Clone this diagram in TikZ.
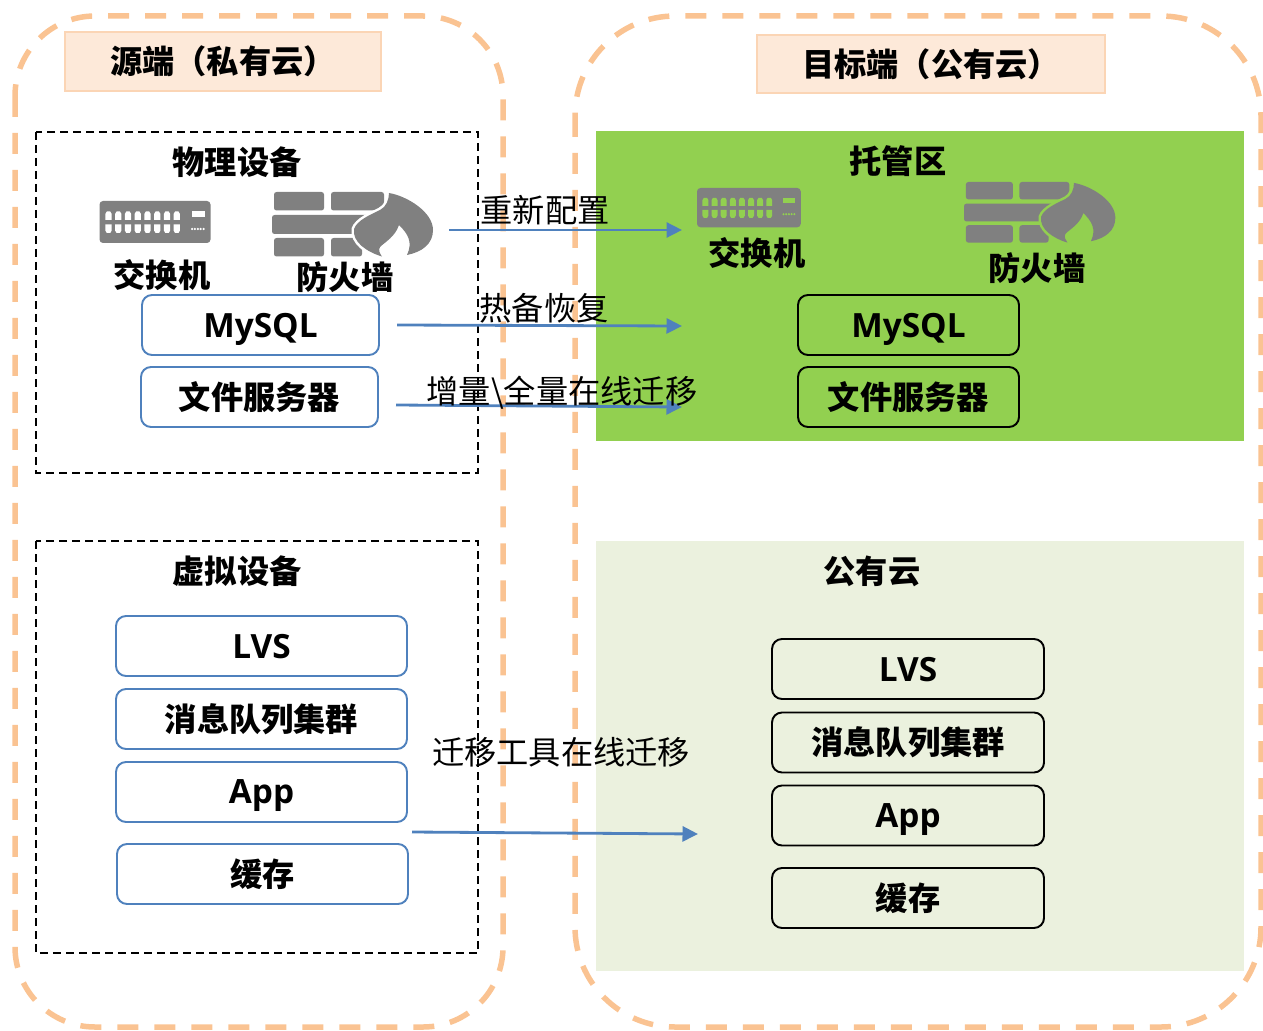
\documentclass[tikz,border=0pt]{standalone}
\usepackage{fontspec}
\setmainfont{Noto Sans CJK SC}
\newfontfamily\latinfont{Open Sans}
\newcommand{\latintext}[1]{\raisebox{0pt}[\height][0pt]{\fontsize{19}{20}\selectfont\latinfont\bfseries #1}}
\usetikzlibrary{arrows.meta}
\definecolor{framecol}{HTML}{FAC392}
\definecolor{titlefill}{HTML}{FDE9D9}
\definecolor{titleline}{HTML}{FBD5B5}
\definecolor{hostgreen}{HTML}{92D050}
\definecolor{cloudgreen}{HTML}{EBF1DE}
\definecolor{linkblue}{HTML}{4F81BD}
\definecolor{icongray}{HTML}{808080}
\tikzset{
  frame/.style={draw=framecol, line width=5.5*0.02cm, dash pattern=on 21*0.02cm off 16*0.02cm},
  groupbox/.style={draw=black, line width=1.1pt, dash pattern=on 8*0.02cm off 5*0.02cm},
  titlebox/.style={draw=titleline, line width=1.2pt, fill=titlefill, inner sep=0pt, font=\fontsize{18.35}{20}\selectfont\bfseries},
  head/.style={inner sep=0pt, font=\fontsize{18.35}{20}\selectfont\bfseries},
  linklabel/.style={inner sep=0pt, font=\fontsize{18.35}{20}\selectfont},
  srcbox/.style={draw=linkblue, line width=1.1pt, rounded corners=0.2cm, fill=white, inner sep=0pt, font=\fontsize{18.35}{20}\selectfont\bfseries},
  dstbox/.style={draw=black, line width=1.1pt, rounded corners=0.2cm, inner sep=0pt, font=\fontsize{18.35}{20}\selectfont\bfseries},
  link/.style={draw=linkblue, line width=1.6pt, -{Triangle[length=0.31cm, width=0.3cm]}},
  pics/switchicon/.style={code={
    \fill[icongray, rounded corners=0.07cm] (0,0) rectangle (111,42);
    \foreach \i in {0,...,7} {
      \fill[#1] ({9+9.75*\i-3.2},13) -- ++(1.5,-2.5) -- ++(3.4,0) -- ++(1.5,2.5) -- ++(0,6) -- ++(-6.4,0) -- cycle;
      \fill[#1] ({9+9.75*\i-3.2},23.5) -- ++(6.4,0) -- ++(0,6) -- ++(-1.5,2.5) -- ++(-3.4,0) -- ++(-1.5,-2.5) -- cycle;
    }
    \fill[#1] (92,10.5) rectangle (105,16.5);
    \foreach \i in {0,...,4} \fill[#1] ({92.5+2.9*\i},28) circle (0.025cm);
  }},
  pics/wallicon/.style={code={
    \fill[icongray, rounded corners=0.05cm] (2,0) rectangle (52,18.5);
    \fill[icongray, rounded corners=0.05cm] (59,0) rectangle (112,18.5);
    \fill[icongray, rounded corners=0.05cm] (0,23) rectangle (100,42);
    \fill[icongray, rounded corners=0.05cm] (2,46) rectangle (52,64.5);
    \fill[icongray, rounded corners=0.05cm] (59,46) rectangle (90,64.5);
    % gap between bricks and flame
    \draw[#1, line width=5*0.02cm] (110,66) .. controls (95,60) and (80,50) .. (82,37)
      .. controls (85,28) and (100,22) .. (108,18) .. controls (114,15) and (117,8) .. (117,-2);
    % flame
    \fill[icongray] (117,1) .. controls (135,4) and (161,20) .. (161,38)
      .. controls (161,52) and (150,60) .. (135,63) .. controls (141,50) and (136,42) .. (127,33)
      .. controls (123,45) and (113,50) .. (108,55) .. controls (106,58) and (108,62) .. (110,64.5)
      .. controls (95,60) and (80,50) .. (82,37) .. controls (85,28) and (100,22) .. (108,18)
      .. controls (114,15) and (117,8) .. (117,1) -- cycle;
  }}
}

\begin{document}
\begin{tikzpicture}[x=0.02cm, y=-0.02cm]
  \useasboundingbox (0,0) rectangle (1263,1030);
  % Source and target frames
  \draw[frame, rounded corners=1.6cm] (15,16) rectangle (503,1027);
  \draw[frame, rounded corners=2cm] (575,16) rectangle (1261,1027);
  % Target zones
  \fill[hostgreen] (596,131) rectangle (1244,441);
  \fill[cloudgreen] (596,541) rectangle (1244,971);
  % Source groups
  \draw[groupbox] (36,132) rectangle (478,473);
  \draw[groupbox] (36,541) rectangle (478,953);
  % Titles
  \node[titlebox, minimum width=316*0.02cm, minimum height=59*0.02cm] (srctitle) at (223,61.5) {源端（私有云）};
  \node[titlebox, minimum width=348*0.02cm, minimum height=58*0.02cm] (dsttitle) at (931,64) {目标端（公有云）};
  \node[head] (phys) at (237,162) {物理设备};
  \node[head] (virt) at (237,571) {虚拟设备};
  \node[head] (hosted) at (898,161) {托管区};
  \node[head] (cloud) at (872,571) {公有云};
  % Icons
  \pic at (99.5,201) {switchicon=white};
  \pic at (272,192) {wallicon=white};
  \pic[scale=0.935] at (697,188) {switchicon=hostgreen};
  \pic[scale=0.94] at (964,182) {wallicon=hostgreen};
  \node[head] (srcswitch) at (162,275) {交换机};
  \node[head] (srcwall) at (345,277) {防火墙};
  \node[head] (dstswitch) at (757,253) {交换机};
  \node[head] (dstwall) at (1037,268) {防火墙};
  % Source boxes
  \node[srcbox, minimum width=237*0.02cm, minimum height=60*0.02cm] (srcmysql) at (260.5,325) {\latintext{MySQL}};
  \node[srcbox, minimum width=237*0.02cm, minimum height=60*0.02cm] (srcfile) at (259.5,397) {文件服务器};
  \node[srcbox, minimum width=291*0.02cm, minimum height=60*0.02cm] (srclvs) at (261.5,646) {\latintext{LVS}};
  \node[srcbox, minimum width=291*0.02cm, minimum height=60*0.02cm] (srcmq) at (261.5,719) {消息队列集群};
  \node[srcbox, minimum width=291*0.02cm, minimum height=60*0.02cm] (srcapp) at (261.5,792) {\latintext{App}};
  \node[srcbox, minimum width=291*0.02cm, minimum height=60*0.02cm] (srccache) at (262.5,874) {缓存};
  % Target boxes
  \node[dstbox, minimum width=221*0.02cm, minimum height=60*0.02cm] (dstmysql) at (908.5,325) {\latintext{MySQL}};
  \node[dstbox, minimum width=221*0.02cm, minimum height=60*0.02cm] (dstfile) at (908.5,397) {文件服务器};
  \node[dstbox, minimum width=272*0.02cm, minimum height=60*0.02cm] (dstlvs) at (908,669) {\latintext{LVS}};
  \node[dstbox, minimum width=272*0.02cm, minimum height=60*0.02cm] (dstmq) at (908,742.5) {消息队列集群};
  \node[dstbox, minimum width=272*0.02cm, minimum height=60*0.02cm] (dstapp) at (908,815.5) {\latintext{App}};
  \node[dstbox, minimum width=272*0.02cm, minimum height=60*0.02cm] (dstcache) at (908,898) {缓存};
  % Migration arrows
  \coordinate (cfgfrom) at (449,230);
  \coordinate (cfgto) at (682,230);
  \coordinate (hotfrom) at (397,325);
  \coordinate (hotto) at (682,326);
  \coordinate (incfrom) at (396,405);
  \coordinate (incto) at (682,407);
  \coordinate (toolfrom) at (412,832);
  \coordinate (toolto) at (698,834);
  \draw[link] (cfgfrom) -- (cfgto);
  \draw[link] (hotfrom) -- (hotto);
  \draw[link] (incfrom) -- (incto);
  \draw[link] (toolfrom) -- (toolto);
  \node[linklabel] (cfglabel) at (545,210) {重新配置};
  \node[linklabel] (hotlabel) at (544,308) {热备恢复};
  \node[linklabel] (inclabel) at (562,393) {增量\textbackslash 全量在线迁移};
  \node[linklabel] (toollabel) at (561,752.5) {迁移工具在线迁移};
\end{tikzpicture}
\end{document}
